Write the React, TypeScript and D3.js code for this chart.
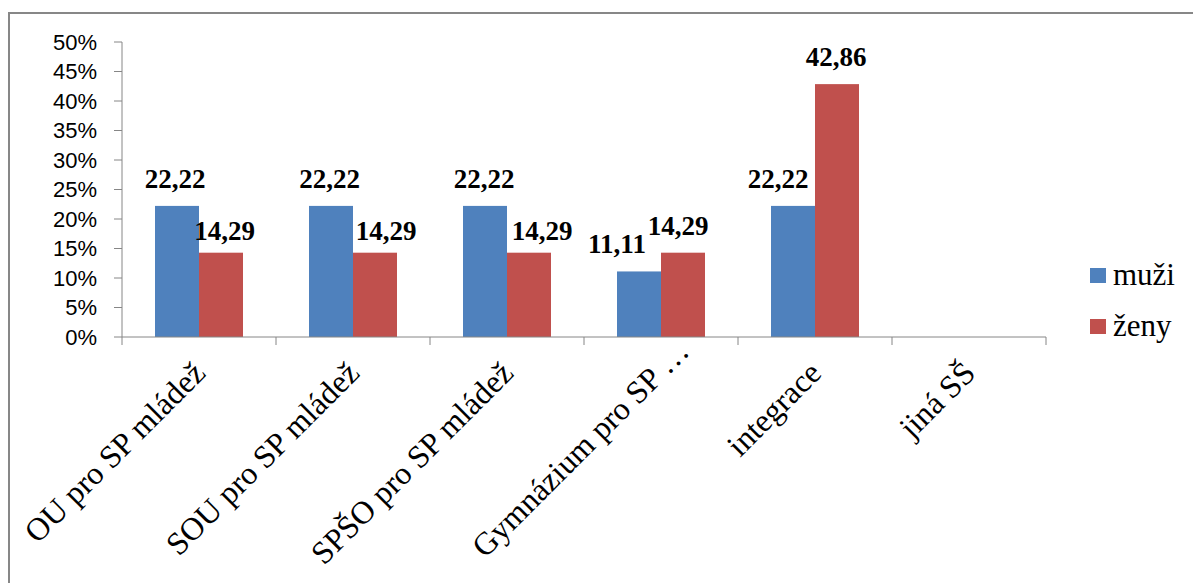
import React from "react";
import * as d3 from "d3";

const categories = [
  "OU pro SP mládež",
  "SOU pro SP mládež",
  "SPŠO pro SP mládež",
  "Gymnázium pro SP …",
  "integrace",
  "jiná SŠ",
];
const seriesNames = ["muži", "ženy"];
const muzi: (number | null)[] = [22.22, 22.22, 22.22, 11.11, 22.22, null];
const zeny: (number | null)[] = [14.29, 14.29, 14.29, 14.29, 42.86, null];
const yTicks = [0, 5, 10, 15, 20, 25, 30, 35, 40, 45, 50];

const COLORS = ["#4F81BD", "#C0504D"];
// manual label nudges (as dragged in the original), [dx, dy] per series per category
const LABEL_NUDGE: [number, number][][] = [
  [[-2, 0], [-1.5, 0], [-1, 0], [-22, 0], [-15, 0], [0, 0]],
  [[3.5, 5], [11, 5], [13, 5], [-5, 0], [-1, 0], [0, 0]],
];
// shift along the rotated baseline for category labels (truncated label sits further out)
const X_LABEL_SHIFT = [0, 0, 0, 31, 0, 0];

const W = 1193;
const H = 583;
const M = { left: 122, right: 1046, top: 42, bottom: 337 };

const SERIF = '"Liberation Serif", "Times New Roman", Times, serif';
const SANS = '"Liberation Sans", Arial, Helvetica, sans-serif';

export default function App() {
  const series = [muzi, zeny];
  const x = d3.scaleBand<string>().domain(categories).range([M.left, M.right]).paddingInner(0).paddingOuter(0);
  const xs = d3.scaleBand<string>().domain(seriesNames).range([0, x.bandwidth()]).paddingInner(0).paddingOuter(0.75);
  const y = d3.scaleLinear().domain([0, 50]).range([M.bottom, M.top]);
  const fmt = (v: number) => v.toFixed(2).replace(".", ",");
  const axisColor = "#868686";

  return (
    <svg width={W} height={H} style={{ position: "absolute", left: 0, top: 0, background: "#fff" }}>
      <rect x={0} y={0} width={W} height={H} fill="#fff" />
      {/* outer border */}
      <line x1={9} y1={13} x2={W} y2={13} stroke="#878787" strokeWidth={2} />
      <line x1={9} y1={12} x2={9} y2={H} stroke="#878787" strokeWidth={2} />

      {/* bars */}
      {series.map((vals, si) =>
        vals.map((v, ci) =>
          v == null ? null : (
            <rect
              key={`b${si}-${ci}`}
              x={(x(categories[ci]) as number) + (xs(seriesNames[si]) as number)}
              y={y(v)}
              width={xs.bandwidth()}
              height={y(0) - y(v)}
              fill={COLORS[si]}
            />
          )
        )
      )}

      {/* y axis */}
      <line x1={M.left} y1={M.top} x2={M.left} y2={M.bottom} stroke={axisColor} strokeWidth={1} />
      {yTicks.map((t) => (
        <g key={`yt${t}`}>
          <line x1={M.left - 8} x2={M.left} y1={y(t)} y2={y(t)} stroke={axisColor} strokeWidth={1} />
          <text x={97} y={y(t)} dy="0.36em" textAnchor="end" style={{ fontFamily: SANS, fontSize: 22 }} fill="#000">
            {t}%
          </text>
        </g>
      ))}

      {/* x axis */}
      <line x1={M.left} y1={M.bottom} x2={M.right} y2={M.bottom} stroke={axisColor} strokeWidth={1} />
      {[...categories.map((c) => x(c) as number), M.right].map((px, i) => (
        <line key={`xt${i}`} x1={px} x2={px} y1={M.bottom} y2={M.bottom + 8} stroke={axisColor} strokeWidth={1} />
      ))}
      {categories.map((c, i) => {
        const s = X_LABEL_SHIFT[i] * Math.SQRT1_2;
        const cx = (x(c) as number) + x.bandwidth() / 2 + 8 + s;
        const cy = M.bottom + 38 - s;
        return (
          <text
            key={`xl${c}`}
            x={cx}
            y={cy}
            textAnchor="end"
            transform={`rotate(-45 ${cx} ${cy})`}
            style={{ fontFamily: SERIF, fontSize: 32 }}
            fill="#000"
          >
            {c}
          </text>
        );
      })}

      {/* data labels */}
      {series.map((vals, si) =>
        vals.map((v, ci) => {
          if (v == null) return null;
          const [dx, dy] = LABEL_NUDGE[si][ci];
          const cx = (x(categories[ci]) as number) + (xs(seriesNames[si]) as number) + xs.bandwidth() / 2 + dx;
          return (
            <text
              key={`l${si}-${ci}`}
              x={cx}
              y={y(v) - 18 + dy}
              textAnchor="middle"
              style={{ fontFamily: SERIF, fontWeight: "bold", fontSize: 27 }}
              fill="#000"
            >
              {fmt(v)}
            </text>
          );
        })
      )}

      {/* legend */}
      {seriesNames.map((s, i) => (
        <g key={`lg${s}`} transform={`translate(1090, ${268 + i * 51})`}>
          <rect x={0} y={0} width={16} height={15} fill={COLORS[i]} />
          <text x={23} y={17} style={{ fontFamily: SERIF, fontSize: 31 }} fill="#000">
            {s}
          </text>
        </g>
      ))}
    </svg>
  );
}
